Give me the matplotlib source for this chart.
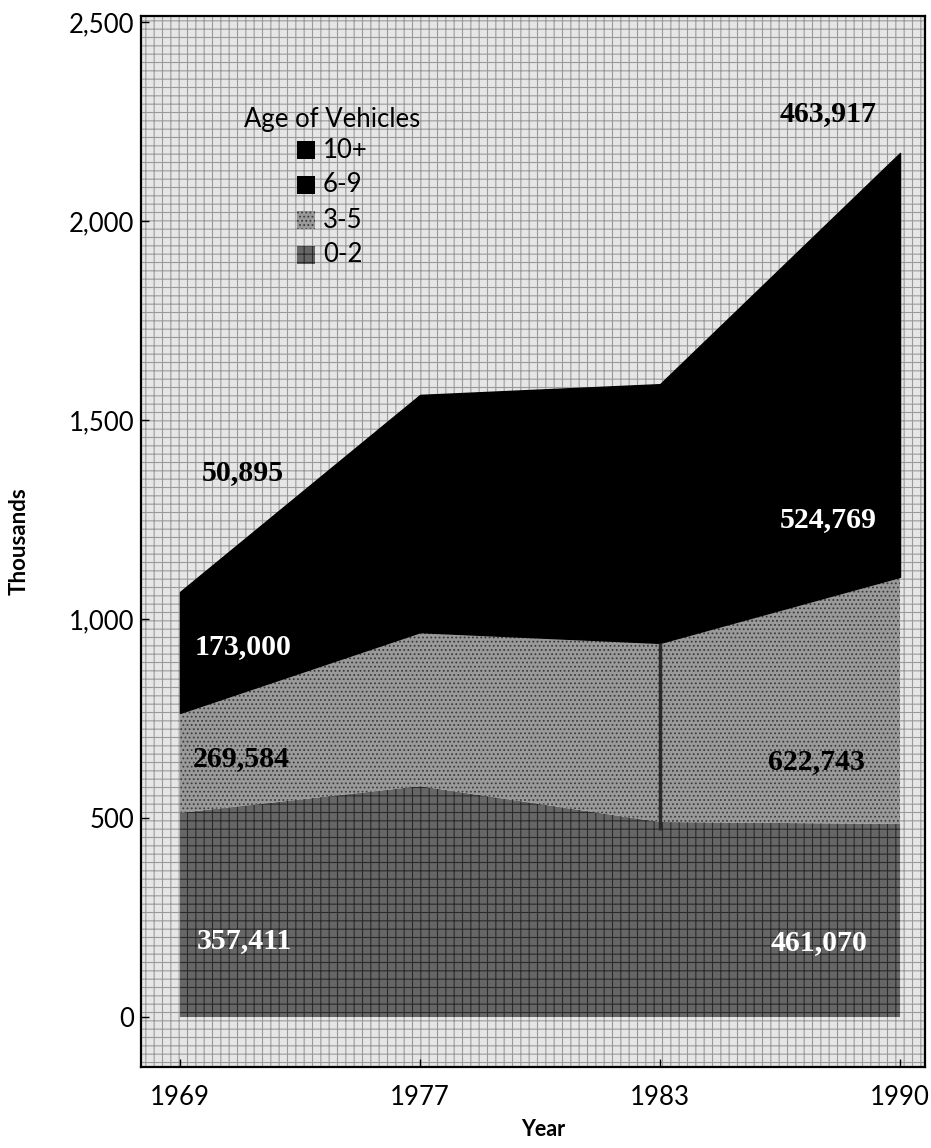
import matplotlib
matplotlib.use("Agg")
import matplotlib.pyplot as plt
from matplotlib.patches import Rectangle
from matplotlib.ticker import FuncFormatter, MultipleLocator
import numpy as np

# ---- data (thousands of vehicles; band thickness) ----
years = ["1969", "1977", "1983", "1990"]
age_0_2 = [513, 580, 490, 485]
age_3_5 = [251, 387, 450, 621]
age_6_9 = [235, 387, 390, 565]
age_10p = [69, 209, 260, 500]
series_names = ["10+", "6-9", "3-5", "0-2"]

# printed value labels
label_texts = ["50,895", "173,000", "269,584", "357,411",
               "463,917", "524,769", "622,743", "461,070"]

plt.rcParams["hatch.linewidth"] = 0.8

fig = plt.figure(figsize=(9.31, 11.48), dpi=100)
ax = fig.add_axes([141 / 931, 1 - 1067 / 1148, (925 - 141) / 931, (1067 - 16) / 1148])

x = np.arange(len(years))
b0 = np.zeros(len(years))
b1 = b0 + np.array(age_0_2)
b2 = b1 + np.array(age_3_5)
b3 = b2 + np.array(age_6_9)
b4 = b3 + np.array(age_10p)

# textured background
ax.add_patch(Rectangle((0, 0), 1, 1, transform=ax.transAxes, facecolor="#e6e6e6",
                       edgecolor="#9a9a9a", hatch="++", linewidth=0, zorder=0))

ax.fill_between(x, b0, b1, facecolor="#666666", edgecolor="#2a2a2a", hatch="++",
                linewidth=0, zorder=2)
ax.fill_between(x, b1, b2, facecolor="#9a9a9a", edgecolor="#3c3c3c", hatch="....",
                linewidth=0, zorder=2)
ax.fill_between(x, b2, b3, facecolor="#000000", edgecolor="#000000", linewidth=1.0, zorder=2)
ax.fill_between(x, b3, b4, facecolor="#000000", edgecolor="#000000", linewidth=1.0, zorder=2)
ax.vlines(x[2], b1[2] - 20, b2[2], color="#2a2a2a", linewidth=2.5, zorder=3)

ax.set_xlim(-0.1625, 3.104)
ax.set_ylim(-125.6, 2515)
ax.set_xticks(x)
ax.set_xticklabels(years)
ax.yaxis.set_major_locator(MultipleLocator(500))
ax.yaxis.set_major_formatter(FuncFormatter(lambda v, p: f"{int(v):,}"))

for s in ax.spines.values():
    s.set_linewidth(1.6)
    s.set_color("black")
    s.set_zorder(5)

ax.tick_params(axis="both", direction="in", length=6, width=1, labelsize=18.5)
ax.tick_params(axis="x", pad=13)
ax.tick_params(axis="y", pad=5)
for lab in ax.get_xticklabels() + ax.get_yticklabels():
    lab.set_family("Lato")

ax.set_xlabel("Year", fontsize=15.5, fontweight="bold", family="Lato", va="center")
ax.xaxis.set_label_coords((543 - 141) / 784, -(1129 - 1067) / 1051)
ax.set_ylabel("Thousands", fontsize=16, fontweight="bold", family="Lato")
ax.yaxis.set_label_coords((30 - 141) / 784, 0.50)

# value labels: (x index, y value, color)
label_pos = [(0.09, 1367, "black"), (0.06, 930, "white"), (0.055, 650, "black"),
             (0.07, 193, "white"), (2.5, 2271, "black"), (2.5, 1249, "white"),
             (2.45, 641, "black"), (2.46, 188, "white")]
for t, (px, py, c) in zip(label_texts, label_pos):
    ax.text(px, py, t, color=c, fontsize=21.5, fontweight="bold", family="Liberation Serif",
            va="center", ha="left", zorder=6)

# legend
fig.text(244 / 931, 1 - 119 / 1148, "Age of Vehicles", fontsize=18.5, family="Lato",
         va="center", zorder=7)
leg_styles = [dict(facecolor="black"), dict(facecolor="black"),
              dict(facecolor="#9a9a9a", edgecolor="#3c3c3c", hatch="...."),
              dict(facecolor="#666666", edgecolor="#2a2a2a", hatch="++")]
for i, (name, st) in enumerate(zip(series_names, leg_styles)):
    yc = 150 + i * 35  # pixel from top
    y_fig = 1 - yc / 1148
    fig.patches.append(Rectangle((297 / 931, y_fig - 9 / 1148), 18 / 931, 18 / 1148,
                                 transform=fig.transFigure, linewidth=0, zorder=7, **st))
    fig.text(323 / 931, y_fig, name, fontsize=18.5, family="Lato", va="center", zorder=7)

fig.savefig("out.png", dpi=100)
